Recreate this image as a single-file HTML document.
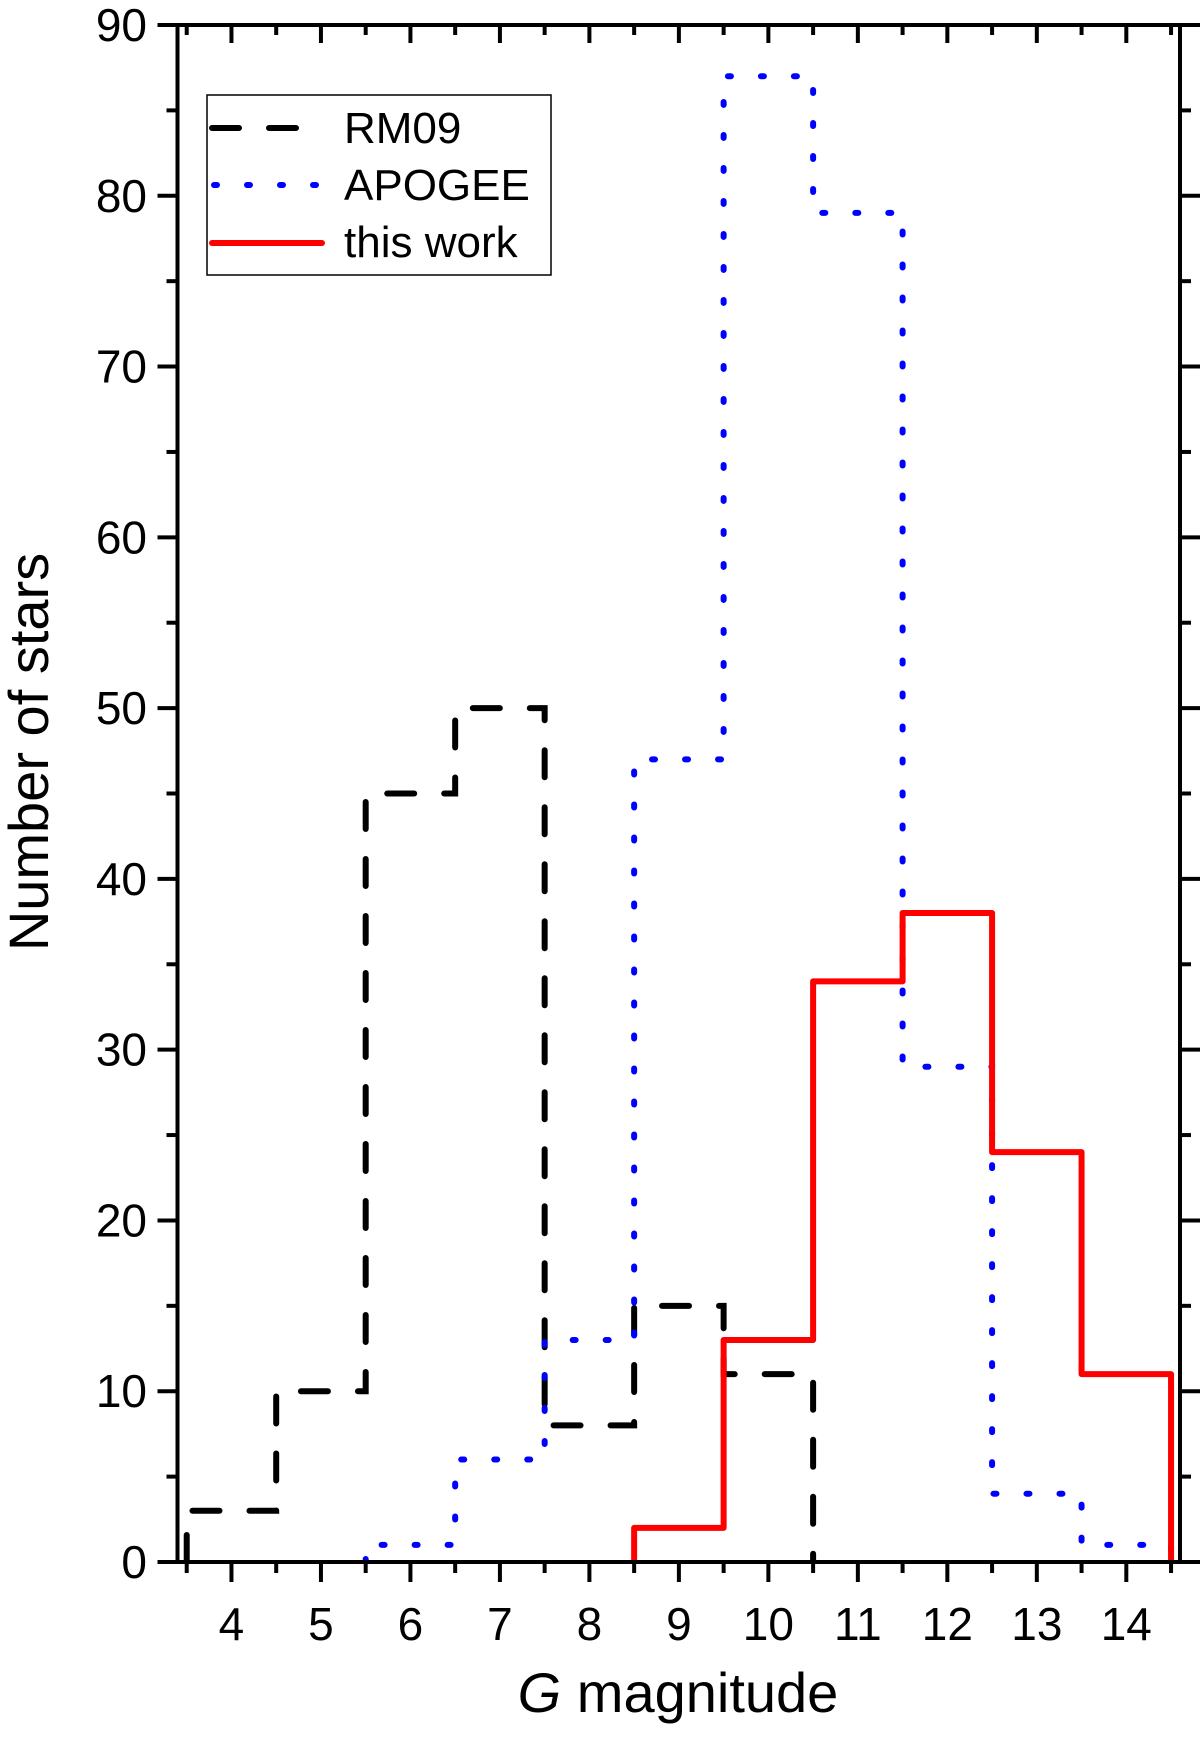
<!DOCTYPE html>
<html><head><meta charset="utf-8"><style>
html,body{margin:0;padding:0;background:#fff;}
svg{display:block;font-family:"Liberation Sans",Arial,sans-serif;}
</style></head><body>
<svg id="chart" width="1200" height="1737" viewBox="0 0 1200 1737" xmlns="http://www.w3.org/2000/svg">
<g id="marks"></g>
<g id="axes"></g>
<g>
<rect x="207" y="95" width="344" height="180" fill="#fff" stroke="#000" stroke-width="1.5"/>
<line x1="212" y1="128" x2="322" y2="128" stroke="#000" stroke-width="6" stroke-linecap="round" stroke-dasharray="27 30"/>
<text x="344" y="143" font-size="44">RM09</text>
<line x1="214" y1="185" x2="322" y2="185" stroke="#00f" stroke-width="6" stroke-linecap="round" stroke-dasharray="3 30"/>
<text x="344" y="200" font-size="44">APOGEE</text>
<line x1="212" y1="243" x2="322" y2="243" stroke="#f00" stroke-width="6" stroke-linecap="round"/>
<text x="344" y="257" font-size="44">this work</text>
</g>
<text x="678" y="1712" font-size="56" text-anchor="middle"><tspan font-style="italic">G</tspan> magnitude</text>
<text transform="translate(48,752) rotate(-90)" font-size="56" text-anchor="middle">Number of stars</text>
</svg>
<script>
const binEdgesStart = [3.5, 4.5, 5.5, 6.5, 7.5, 8.5, 9.5, 10.5, 11.5, 12.5, 13.5];
const rm09Counts = [3, 10, 45, 50, 8, 15, 11];
const rm09Start = 3.5;
const apogeeCounts = [1, 6, 13, 47, 87, 79, 29, 4, 1];
const apogeeStart = 5.5;
const thisWorkCounts = [2, 13, 34, 38, 24, 11];
const thisWorkStart = 8.5;
const xTickLabels = [4,5,6,7,8,9,10,11,12,13,14];
const yTickLabels = [0,10,20,30,40,50,60,70,80,90];

const L=177.5, R=1180, T=25, B=1562;
const xMin=3.397, xMax=14.6, yMin=0, yMax=90;
const binW=1;
function X(v){return L+(v-xMin)/(xMax-xMin)*(R-L);}
function Y(v){return B-(v-yMin)/(yMax-yMin)*(B-T);}
const NS="http://www.w3.org/2000/svg";
const marks=document.getElementById('marks'), axes=document.getElementById('axes');
function mk(tag,attrs,parent){const e=document.createElementNS(NS,tag);for(const k in attrs)e.setAttribute(k,attrs[k]);parent.appendChild(e);return e;}
function stepPath(start,counts){
  let d='M'+X(start)+','+Y(0);
  counts.forEach((c,i)=>{d+=' L'+X(start+i*binW)+','+Y(c)+' L'+X(start+(i+1)*binW)+','+Y(c);});
  d+=' L'+X(start+counts.length*binW)+','+Y(0);
  return d;
}
const p1=mk('path',{d:stepPath(rm09Start,rm09Counts),fill:'none',stroke:'#000','stroke-width':6,'stroke-linecap':'round','stroke-dasharray':'27 30'},marks);


const p2=mk('path',{d:stepPath(apogeeStart,apogeeCounts),fill:'none',stroke:'#00f','stroke-width':6,'stroke-linecap':'round','stroke-dasharray':'3 30'},marks);


const p3=mk('path',{d:stepPath(thisWorkStart,thisWorkCounts),fill:'none',stroke:'#f00','stroke-width':6,'stroke-linejoin':'round'},marks);



const frame=mk('rect',{x:L,y:T,width:R-L,height:B-T,fill:'none',stroke:'#000','stroke-width':4},axes);


// x ticks
for(let v=3.5; v<=14.5; v+=0.5){
  const major=Math.abs(v-Math.round(v))<1e-6;
  const x=X(v);
  const t=mk('line',{x1:x,y1:B,x2:x,y2:B+(major?20:11),stroke:'#000','stroke-width':4},axes);
  
  
  const t2=mk('line',{x1:x,y1:T,x2:x,y2:T+(major?18:10),stroke:'#000','stroke-width':4},axes);
  
  
}
xTickLabels.forEach(v=>{
  const t=mk('text',{x:X(v),y:1640,'font-size':46,'text-anchor':'middle'},axes);
  t.textContent=v;
  
  
});
for(let v=0; v<=90; v+=5){
  const major=v%10===0;
  const y=Y(v);
  const t=mk('line',{x1:L,y1:y,x2:L-(major?20:11),y2:y,stroke:'#000','stroke-width':4},axes);
  
  
  const t2=mk('line',{x1:R,y1:y,x2:R+(major?20:11),y2:y,stroke:'#000','stroke-width':4},axes);
  
  
}
yTickLabels.forEach(v=>{
  const t=mk('text',{x:147,y:Y(v)+16,'font-size':46,'text-anchor':'end'},axes);
  t.textContent=v;
  
  
});
</script>
</body></html>
